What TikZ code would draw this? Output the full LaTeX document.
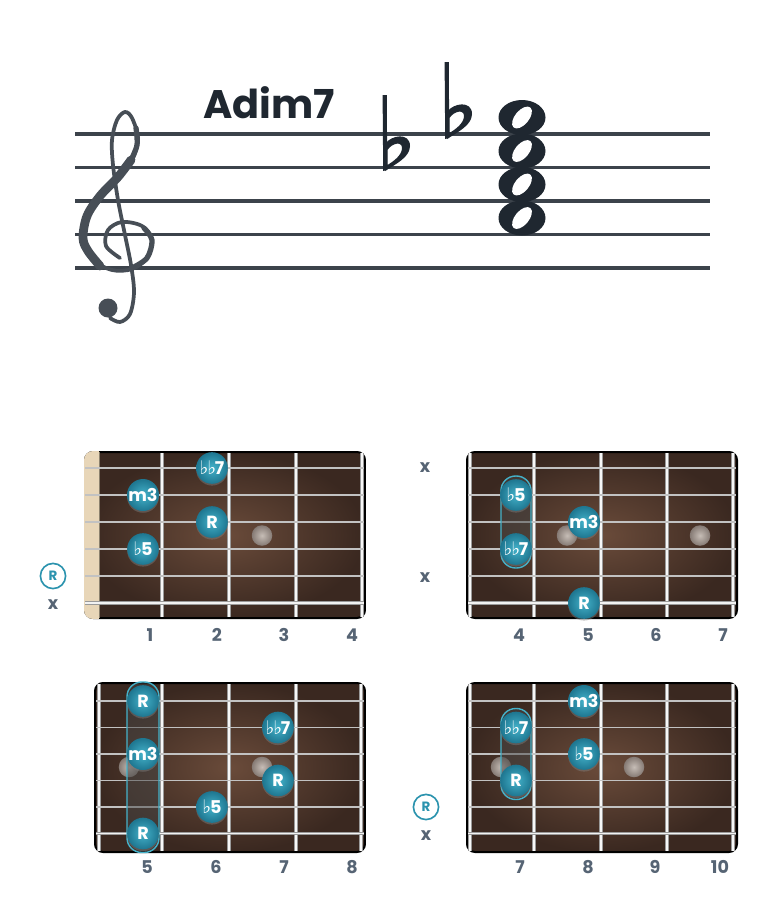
\documentclass[tikz,border=0pt]{standalone}
\usepackage{fontspec}
\setmainfont{Poppins}
\newfontfamily\flatfont{DejaVu Sans}
\usepackage{tikz}
\usetikzlibrary{positioning}
\usetikzlibrary{shadows}
\usetikzlibrary{calc}

\definecolor{staffgray}{HTML}{3C434B}
\definecolor{clefgray}{HTML}{474E56}
\definecolor{inkdark}{HTML}{1F2730}
\definecolor{woodlight}{HTML}{6A4B3A}
\definecolor{wooddark}{HTML}{3A2820}
\definecolor{nutcream}{HTML}{E8D6B8}
\definecolor{fretsilver}{HTML}{9A9A9A}
\definecolor{stringgray}{HTML}{C2C2C2}
\definecolor{teallight}{HTML}{44B2CA}
\definecolor{tealdark}{HTML}{1E7690}
\definecolor{inlaylight}{HTML}{C6BDB6}
\definecolor{inlaydark}{HTML}{857A74}
\definecolor{labelgray}{HTML}{566474}
\definecolor{rootteal}{HTML}{2B93AE}

\pgfdeclarelayer{boardlayer}
\pgfdeclarelayer{barrelayer}
\pgfsetlayers{boardlayer,barrelayer,main}

\newcommand{\fl}{{\flatfont\bfseries\fontsize{16}{16}\selectfont ♭}\kern-1pt}

\tikzset{
  staffline/.style={line width=3.4pt, staffgray},
  clefstroke/.style={line width=3.2pt, clefgray, line cap=round, line join=round},
  notehead/.style={fill=inkdark},
  wood/.style={rounded corners=6.8pt, inner color=woodlight, outer color=wooddark},
  boardedge/.style={draw=black, line width=1.7pt, rounded corners=6.8pt},
  fretwire/.style={draw=fretsilver, line width=0.9pt, double=white!94!gray, double distance=1.8pt},
  stringline/.style={line width=1.3pt, stringgray},
  bassstring/.style={draw=gray!80, line width=0.7pt, double=white!90!gray, double distance=1.2pt},
  inlay/.style={circle, minimum size=17.5pt, inner sep=0pt, inner color=inlaylight, outer color=inlaydark},
  tone/.style={circle, minimum size=27pt, inner sep=0pt, inner color=teallight, outer color=tealdark,
    text=white, font=\bfseries\fontsize{15}{15}\selectfont,
    drop shadow={opacity=0.45, shadow xshift=0pt, shadow yshift=-1.5pt}},
  barre/.style={fill=gray!55!black, fill opacity=0.5, draw=teallight, line width=1.2pt, rounded corners=12.5pt},
  rootmark/.style={circle, draw=rootteal, line width=1.4pt, fill=white, minimum size=21.5pt, inner sep=0pt,
    text=rootteal, font=\bfseries\fontsize{11.5}{11.5}\selectfont},
  mutemark/.style={text=labelgray, font=\bfseries\fontsize{15}{15}\selectfont},
  fretnum/.style={text=labelgray, font=\bfseries\fontsize{15}{15}\selectfont},
  chordname/.style={text=inkdark, font=\bfseries\fontsize{34}{34}\selectfont}
}

\begin{document}
\begin{tikzpicture}[x=0.03cm, y=-0.03cm]
\useasboundingbox (0,0) rectangle (780,916);

% staff
\draw[staffline] (75,134) -- (710,134);
\draw[staffline] (75,167.5) -- (710,167.5);
\draw[staffline] (75,201) -- (710,201);
\draw[staffline] (75,234.5) -- (710,234.5);
\draw[staffline] (75,268) -- (710,268);

\node[chordname] (name) at (269,103) {Adim7};

% treble clef
\draw[clefstroke] plot[smooth, tension=0.55] coordinates {(120,258) (106,246) (108,230) (122,222) (142,226) (152,240) (147,258) (132,269) (112,270) (92,259) (83,238) (87,216) (100,196) (118,177) (133,158) (138,138) (132,118) (125,112) (117,120) (112,140) (113,165) (118,200) (125,235) (131,265) (134,292) (130,314) (120,322) (110,318)};
\draw[clefstroke, line width=7.5pt] plot[smooth, tension=0.55] coordinates {(100,266) (88,251) (83,238) (87,216) (100,196) (118,177) (131,160)};
\draw[clefstroke, line width=4.5pt] plot[smooth, tension=0.55] coordinates {(131,160) (137,145) (136,128)};
\draw[clefstroke, line width=4.5pt] plot[smooth, tension=0.55] coordinates {(144,228) (152,240) (147,258) (132,268)};
\fill[clefgray] (108,308) circle (9.5);

% flats
\begin{scope}[shift={(385,170)}]
\fill[inkdark] (-2.4,-75) -- (1.8,-75) -- (2.2,0) -- (-1.8,1) -- cycle;
\fill[inkdark, even odd rule] (0,-26) .. controls (6,-35) and (25,-38) .. (25,-24) .. controls (25,-13) and (11,-6) .. (0,1) -- cycle
  (2.5,-20) .. controls (7,-27) and (17,-29) .. (17,-22) .. controls (17,-15) and (9,-9) .. (2.5,-5) -- cycle;
\end{scope}
\begin{scope}[shift={(447,138)}]
\fill[inkdark] (-2.4,-76) -- (1.8,-76) -- (2.2,0) -- (-1.8,1) -- cycle;
\fill[inkdark, even odd rule] (0,-26) .. controls (6,-35) and (25,-38) .. (25,-24) .. controls (25,-13) and (11,-6) .. (0,1) -- cycle
  (2.5,-20) .. controls (7,-27) and (17,-29) .. (17,-22) .. controls (17,-15) and (9,-9) .. (2.5,-5) -- cycle;
\end{scope}

% whole notes
\fill[notehead] (522,117.5) ellipse (23.5 and 17.5);
\fill[notehead] (522,151) ellipse (23.5 and 17.5);
\fill[notehead] (522,184.5) ellipse (23.5 and 17.5);
\fill[notehead] (522,218) ellipse (23.5 and 17.5);
\fill[white, rotate around={50:(522,117.5)}] (522,117.5) ellipse (13 and 7);
\fill[white, rotate around={50:(522,151)}] (522,151) ellipse (13 and 7);
\fill[white, rotate around={50:(522,184.5)}] (522,184.5) ellipse (13 and 7);
\fill[white, rotate around={50:(522,218)}] (522,218) ellipse (13 and 7);

% ---------- board 1 ----------
\begin{pgfonlayer}{boardlayer}
\shade[wood] (85,452) rectangle (365,618);
\draw[boardedge] (85,452) rectangle (365,618);
\begin{scope}
\clip[rounded corners=7.6pt] (84,451) rectangle (366,619);
\fill[nutcream] (84,451) rectangle (99,619);
\end{scope}
\draw[line width=0.8pt, nutcream!60!black] (99,452) -- (99,618);
\draw[fretwire] (162,453) -- (162,617);
\draw[fretwire] (229,453) -- (229,617);
\draw[fretwire] (296,453) -- (296,617);
\draw[fretwire] (362,453) -- (362,617);
\draw[stringline] (85,468) -- (364,468);
\draw[stringline] (85,495) -- (364,495);
\draw[stringline] (85,522) -- (364,522);
\draw[stringline] (85,549) -- (364,549);
\draw[stringline] (85,576) -- (364,576);
\draw[bassstring] (85,603) -- (364,603);
\node[inlay] (ai1) at (262,535.5) {};
\end{pgfonlayer}

\node[tone] (a1) at (212,468) {\fl\fl7};
\node[tone] (a2) at (143,495) {m3};
\node[tone] (a3) at (212,522) {R};
\node[tone] (a4) at (143,549) {\fl5};

\node[rootmark] (ar) at (53,576) {R};
\node[mutemark] (ax) at (53,605) {x};

\node[fretnum] (af1) at (150,635) {1};
\node[fretnum] (af2) at (217,635) {2};
\node[fretnum] (af3) at (284,635) {3};
\node[fretnum] (af4) at (352,635) {4};

% ---------- board 2 ----------
\begin{pgfonlayer}{boardlayer}
\shade[wood] (467,452) rectangle (737,618);
\draw[boardedge] (467,452) rectangle (737,618);
\draw[fretwire] (470,453) -- (470,617);
\draw[fretwire] (534,453) -- (534,617);
\draw[fretwire] (601,453) -- (601,617);
\draw[fretwire] (667,453) -- (667,617);
\draw[fretwire] (733,453) -- (733,617);
\draw[stringline] (468,468) -- (736,468);
\draw[stringline] (468,495) -- (736,495);
\draw[stringline] (468,522) -- (736,522);
\draw[stringline] (468,549) -- (736,549);
\draw[stringline] (468,576) -- (736,576);
\draw[bassstring] (468,603) -- (736,603);
\node[inlay] (bi1) at (567,535.5) {};
\node[inlay] (bi2) at (700,535.5) {};
\end{pgfonlayer}

\node[tone] (b1) at (516,495) {\fl5};
\node[tone] (b2) at (516,549) {\fl\fl7};
\node[tone] (b3) at (584,522) {m3};
\node[tone] (b4) at (584,603) {R};

\begin{pgfonlayer}{barrelayer}
\draw[barre] ([shift={(-15,-19)}]b1.center) rectangle ([shift={(15,19)}]b2.center);
\end{pgfonlayer}

\node[mutemark] (bx1) at (425,468) {x};
\node[mutemark] (bx2) at (425,578) {x};

\node[fretnum] (bf1) at (519,635) {4};
\node[fretnum] (bf2) at (588,635) {5};
\node[fretnum] (bf3) at (656,635) {6};
\node[fretnum] (bf4) at (723,635) {7};

% ---------- board 3 ----------
\begin{pgfonlayer}{boardlayer}
\shade[wood] (95,683) rectangle (365,852);
\draw[boardedge] (95,683) rectangle (365,852);
\draw[fretwire] (99,684) -- (99,851);
\draw[fretwire] (162,684) -- (162,851);
\draw[fretwire] (229,684) -- (229,851);
\draw[fretwire] (296,684) -- (296,851);
\draw[fretwire] (361,684) -- (361,851);
\draw[stringline] (96,701) -- (364,701);
\draw[stringline] (96,727.5) -- (364,727.5);
\draw[stringline] (96,754) -- (364,754);
\draw[stringline] (96,780.5) -- (364,780.5);
\draw[stringline] (96,807) -- (364,807);
\draw[bassstring] (96,833.5) -- (364,833.5);
\node[inlay] (ci1) at (129,767) {};
\node[inlay] (ci2) at (262,767) {};
\end{pgfonlayer}

\node[tone] (c1) at (143,701) {R};
\node[tone] (c2) at (143,754) {m3};
\node[tone] (c3) at (143,833.5) {R};
\node[tone] (c4) at (278,727.5) {\fl\fl7};
\node[tone] (c5) at (278,780.5) {R};
\node[tone] (c6) at (212,807) {\fl5};

\begin{pgfonlayer}{barrelayer}
\draw[barre] ([shift={(-16,-19)}]c1.center) rectangle ([shift={(16,19)}]c3.center);
\end{pgfonlayer}

\node[fretnum] (cf1) at (147,867) {5};
\node[fretnum] (cf2) at (216,867) {6};
\node[fretnum] (cf3) at (284,867) {7};
\node[fretnum] (cf4) at (352,867) {8};

% ---------- board 4 ----------
\begin{pgfonlayer}{boardlayer}
\shade[wood] (467,683) rectangle (737,852);
\draw[boardedge] (467,683) rectangle (737,852);
\draw[fretwire] (470,684) -- (470,851);
\draw[fretwire] (534,684) -- (534,851);
\draw[fretwire] (601,684) -- (601,851);
\draw[fretwire] (667,684) -- (667,851);
\draw[fretwire] (733,684) -- (733,851);
\draw[stringline] (468,701) -- (736,701);
\draw[stringline] (468,727.5) -- (736,727.5);
\draw[stringline] (468,754) -- (736,754);
\draw[stringline] (468,780.5) -- (736,780.5);
\draw[stringline] (468,807) -- (736,807);
\draw[bassstring] (468,833.5) -- (736,833.5);
\node[inlay] (di1) at (501,767) {};
\node[inlay] (di2) at (634,767) {};
\end{pgfonlayer}

\node[tone] (d1) at (584,701) {m3};
\node[tone] (d2) at (516,727.5) {\fl\fl7};
\node[tone] (d3) at (584,754) {\fl5};
\node[tone] (d4) at (516,780.5) {R};

\begin{pgfonlayer}{barrelayer}
\draw[barre] ([shift={(-15,-19)}]d2.center) rectangle ([shift={(15,19)}]d4.center);
\end{pgfonlayer}

\node[rootmark] (dr) at (426,807) {R};
\node[mutemark] (dx) at (426,836) {x};

\node[fretnum] (df1) at (520,867) {7};
\node[fretnum] (df2) at (588,867) {8};
\node[fretnum] (df3) at (655,867) {9};
\node[fretnum] (df4) at (720,867) {10};
\end{tikzpicture}
\end{document}
